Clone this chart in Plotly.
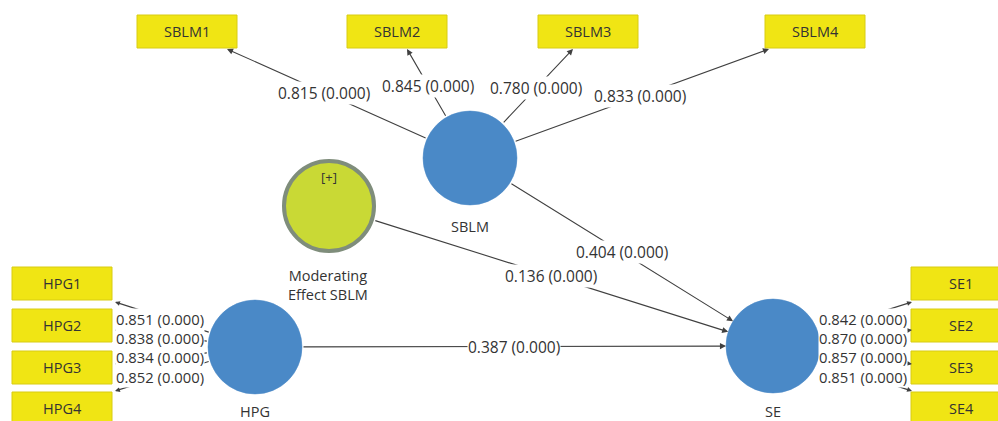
import math
import plotly.graph_objects as go

# ---------------- data ----------------
constructs = ["SBLM", "HPG", "SE", "Moderating Effect SBLM"]
sblm_items = ["SBLM1", "SBLM2", "SBLM3", "SBLM4"]
sblm_loadings = [0.815, 0.845, 0.780, 0.833]
sblm_pvalues = [0.000, 0.000, 0.000, 0.000]
hpg_items = ["HPG1", "HPG2", "HPG3", "HPG4"]
hpg_loadings = [0.851, 0.838, 0.834, 0.852]
hpg_pvalues = [0.000, 0.000, 0.000, 0.000]
se_items = ["SE1", "SE2", "SE3", "SE4"]
se_loadings = [0.842, 0.870, 0.857, 0.851]
se_pvalues = [0.000, 0.000, 0.000, 0.000]
path_from = ["SBLM", "Moderating Effect SBLM", "HPG"]
path_to = ["SE", "SE", "SE"]
path_coefs = [0.404, 0.136, 0.387]
path_pvalues = [0.000, 0.000, 0.000]

# ---------------- layout (pixel space) ----------------
W, H = 998, 421
R = 47
node_pos = {"SBLM": (470, 158), "HPG": (255, 347), "SE": (773, 346),
            "Moderating Effect SBLM": (329, 206)}
node_label_pos = {"SBLM": (470, 226), "HPG": (255, 411), "SE": (773, 411),
                  "Moderating Effect SBLM": (328, 285)}
BOX_W, BOX_H = 100, 33
sblm_box_x = [137, 347, 538, 765]
sblm_box_y = 15
sblm_tips = [(227, 49), (407, 49), (573, 49), (769, 49)]
sblm_label_t = [0.60, 0.66, 0.64, 0.57]
hpg_box_x = 12
se_box_x = 911
ind_box_y = [267, 309, 351, 392]
hpg_tips = [(115, 302), (115, 330), (115, 364), (115, 391)]
se_tips = [(912, 302), (912, 330), (912, 364), (912, 391)]
side_label_x = {"HPG": 115, "SE": 818}
side_label_yc = 348

FONT = "Open Sans"
FS = 14.5
FS_NUM = 15.5
FS_SIDE = 14.8
TXT = "#333333"
LINE = "#404040"
YELLOW = "#f0e514"
YEL_BORDER = "#d8cc12"
BLUE = "#4a89c7"
MOD_FILL = "#c9d935"
MOD_BORDER = "#7f8d7b"

fig = go.Figure()
shapes = []
ann = []


def fmt(v, p):
    return f"{v:.3f} ({p:.3f})"


def edge_point(c, target, r):
    dx, dy = target[0] - c[0], target[1] - c[1]
    d = math.hypot(dx, dy)
    return (c[0] + dx / d * r, c[1] + dy / d * r)


def arrow(start, tip, head=2, size=1.1):
    ann.append(dict(x=tip[0], y=tip[1], ax=start[0], ay=start[1],
                    xref="x", yref="y", axref="x", ayref="y", text="",
                    showarrow=True, arrowhead=head, arrowsize=size,
                    arrowwidth=1.1, arrowcolor=LINE))


def label(x, y, text, xanchor="center", size=FS_NUM, align="center"):
    ann.append(dict(x=x, y=y, xref="x", yref="y", text=text, showarrow=False,
                    xanchor=xanchor, yanchor="middle", bgcolor="white", borderpad=0,
                    align=align, font=dict(family=FONT, size=size, color=TXT)))


# indicator boxes
def box(x0, y0, name):
    shapes.append(dict(type="rect", x0=x0, x1=x0 + BOX_W, y0=y0, y1=y0 + BOX_H,
                       xref="x", yref="y", fillcolor=YELLOW,
                       line=dict(color=YEL_BORDER, width=1), layer="below"))
    ann.append(dict(x=x0 + BOX_W / 2, y=y0 + BOX_H / 2, xref="x", yref="y",
                    text=name, showarrow=False,
                    font=dict(family=FONT, size=FS, color=TXT)))


for i, n in enumerate(sblm_items):
    box(sblm_box_x[i], sblm_box_y, n)
for i, n in enumerate(hpg_items):
    box(hpg_box_x, ind_box_y[i], n)
for i, n in enumerate(se_items):
    box(se_box_x, ind_box_y[i], n)

# circles
for name, (cx, cy) in node_pos.items():
    if name == "Moderating Effect SBLM":
        shapes.append(dict(type="circle", x0=cx - R + 2, x1=cx + R - 2,
                           y0=cy - R + 2, y1=cy + R - 2, xref="x", yref="y",
                           fillcolor=MOD_FILL, line=dict(color=MOD_BORDER, width=4),
                           layer="below"))
    else:
        shapes.append(dict(type="circle", x0=cx - R, x1=cx + R, y0=cy - R, y1=cy + R,
                           xref="x", yref="y", fillcolor=BLUE,
                           line=dict(color=BLUE, width=0.5), layer="below"))

# SBLM loadings
c = node_pos["SBLM"]
for i in range(4):
    tip = sblm_tips[i]
    st = edge_point(c, tip, R)
    arrow(st, tip)
    t = sblm_label_t[i]
    lx = c[0] + (tip[0] - c[0]) * t
    ly = c[1] + (tip[1] - c[1]) * t
    label(lx, ly, fmt(sblm_loadings[i], sblm_pvalues[i]))

# HPG loadings
c = node_pos["HPG"]
for i in range(4):
    tip = hpg_tips[i]
    arrow(edge_point(c, tip, R), tip, head=2, size=0.9)
# SE loadings
c = node_pos["SE"]
for i in range(4):
    tip = se_tips[i]
    arrow(edge_point(c, tip, R), tip, head=2, size=0.9)

# structural paths
for f, t_, coef, p in zip(path_from, path_to, path_coefs, path_pvalues):
    a, b = node_pos[f], node_pos[t_]
    st = edge_point(a, b, R)
    en = edge_point(b, a, R)
    arrow(st, en)
    mx = (st[0] + en[0]) / 2
    my = (st[1] + en[1]) / 2
    label(mx, my, fmt(coef, p))

# side loading labels (stacked)
hpg_text = "<br>".join(fmt(v, p) for v, p in zip(hpg_loadings, hpg_pvalues))
se_text = "<br>".join(fmt(v, p) for v, p in zip(se_loadings, se_pvalues))
label(side_label_x["HPG"], side_label_yc, hpg_text, xanchor="left", size=FS_SIDE, align="left")
label(side_label_x["SE"], side_label_yc, se_text, xanchor="left", size=FS_SIDE, align="left")

# construct labels
for name, (x, y) in node_label_pos.items():
    txt = "Moderating<br>Effect SBLM" if name == "Moderating Effect SBLM" else name
    ann.append(dict(x=x, y=y, xref="x", yref="y", text=txt, showarrow=False,
                    font=dict(family=FONT, size=FS, color=TXT)))
mx, my = node_pos["Moderating Effect SBLM"]
ann.append(dict(x=mx, y=my - 29, xref="x", yref="y", text="[+]", showarrow=False,
                font=dict(family=FONT, size=13, color=TXT)))

fig.update_layout(
    width=W, height=H, margin=dict(l=0, r=0, t=0, b=0),
    paper_bgcolor="white", plot_bgcolor="white",
    xaxis=dict(range=[0, W], visible=False, fixedrange=True),
    yaxis=dict(range=[H, 0], visible=False, fixedrange=True),
    shapes=shapes, annotations=ann, showlegend=False,
)
fig.write_html("out.html", config={"displayModeBar": False},
               post_script="document.body.style.margin='0';document.body.style.overflow='hidden';")
